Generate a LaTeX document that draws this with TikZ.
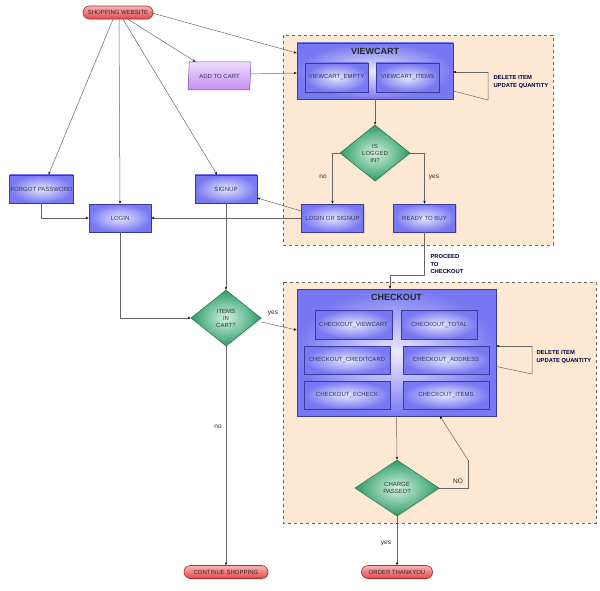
\documentclass[tikz,border=0pt]{standalone}
\usepackage{fontspec}
\setmainfont{Liberation Sans}
\usetikzlibrary{shapes.geometric,shadows,arrows.meta,positioning}
\definecolor{peach}{HTML}{FDE9D3}
\definecolor{boxblue}{HTML}{7878F2}
\definecolor{boxline}{HTML}{3A3A9A}
\definecolor{boxlight}{HTML}{E6E6FF}
\definecolor{pillred}{HTML}{E4484A}
\definecolor{pilllight}{HTML}{F8B4B4}
\definecolor{pillline}{HTML}{A83030}
\definecolor{dgreen}{HTML}{2E9C68}
\definecolor{lgreen}{HTML}{D2F2E2}
\definecolor{lilac}{HTML}{C48CF0}
\definecolor{lilaclight}{HTML}{EEDCFC}
\definecolor{connline}{HTML}{666666}
\definecolor{txt}{HTML}{333355}
\tikzset{
  small/.style={font=\fontsize{6}{7}\selectfont},
  box/.style={draw=boxline, line width=.6pt, inner color=boxlight, outer color=boxblue,
    minimum width=62pt, minimum height=28pt, inner sep=1pt, small, text=txt,
    drop shadow={opacity=.3,shadow xshift=1pt,shadow yshift=-1pt}},
  container/.style={box, inner color=white!85!boxblue, outer color=boxblue},
  decision/.style={diamond, draw=dgreen!70!black, line width=.5pt, inner color=lgreen,
    outer color=dgreen, minimum width=70pt, minimum height=56pt, inner sep=0pt,
    align=center, small, text=black!80,
    drop shadow={opacity=.25,shadow xshift=1pt,shadow yshift=-1pt}},
  terminal/.style={rounded corners=6.5pt, draw=pillline, line width=.6pt, top color=pilllight,
    bottom color=pillred, minimum height=13pt, inner sep=1pt, small, text=black!85,
    drop shadow={opacity=.3,shadow xshift=1pt,shadow yshift=-1pt}},
  datain/.style={trapezium, trapezium left angle=82, trapezium right angle=98,
    trapezium stretches=true, draw=lilac!60!black, line width=.5pt, top color=lilaclight,
    bottom color=lilac, minimum width=63pt, minimum height=28pt, inner sep=1pt, small, text=txt},
  group/.style={draw=black!60, dashed, line width=.5pt, fill=peach},
  conn/.style={draw=connline, line width=.5pt, -{Stealth[length=3pt,width=2.4pt,black]}},
  line/.style={draw=connline, line width=.5pt},
  title/.style={font=\fontsize{9}{10}\selectfont\bfseries, text=black!85},
  note/.style={font=\fontsize{5.8}{7.5}\selectfont\bfseries, text=black!75!blue, align=left},
  answer/.style={font=\fontsize{6.5}{7.5}\selectfont, text=black!85}
}
\begin{document}
\begin{tikzpicture}[x=1pt,y=-1pt]
  \useasboundingbox (0,0) rectangle (600,591);
  % groups
  \draw[group] (283,35) rectangle (553,245);
  \draw[group] (283,282) rectangle (596,523);

  % nodes
  \node[terminal, minimum width=70pt] (shop) at (118,12.5) {SHOPPING WEBSITE};
  \node[datain] (addcart) at (219.5,76) {ADD TO CART};
  \node[container, minimum width=156pt, minimum height=56pt] (viewcart) at (375,71) {};
  \node[title] (viewcarttitle) at (375,51) {VIEWCART};
  \node[box, minimum width=63pt, minimum height=29pt] (vcempty) at (336.5,77.5) {VIEWCART\_EMPTY};
  \node[box, minimum width=63pt, minimum height=29pt] (vcitems) at (407.5,77.5) {VIEWCART\_ITEMS};
  \node[decision] (logged) at (375,153) {IS\\LOGGED\\IN?};
  \node[box] (forgot) at (41.5,189) {FORGOT PASSWORD};
  \node[box] (login) at (120,218) {LOGIN};
  \node[box] (signup) at (226,189) {SIGNUP};
  \node[box] (loginsignup) at (332.5,218) {LOGIN OR SIGNUP};
  \node[box] (ready) at (424.5,218) {READY TO BUY};
  \node[decision] (itemscart) at (226,318) {ITEMS\\IN\\CART?};
  \node[container, minimum width=199pt, minimum height=127pt] (checkout) at (396.5,352.5) {};
  \node[title] (checkouttitle) at (396.5,297) {CHECKOUT};
  \node[box, minimum width=77pt, minimum height=29pt] (coviewcart) at (353.5,324.5) {CHECKOUT\_VIEWCART};
  \node[box, minimum width=76pt, minimum height=29pt] (cototal) at (439,324.5) {CHECKOUT\_TOTAL};
  \node[box, minimum width=86pt] (cocredit) at (347,360) {CHECKOUT\_CREDITCARD};
  \node[box, minimum width=86pt] (coaddress) at (446,360) {CHECKOUT\_ADDRESS};
  \node[box, minimum width=86pt] (coecheck) at (347,395) {CHECKOUT\_ECHECK};
  \node[box, minimum width=86pt] (coitems) at (446,395) {CHECKOUT\_ITEMS};
  \node[decision, minimum width=84pt] (charge) at (397,488) {CHARGE\\PASSED?};
  \node[terminal, minimum width=84pt] (continue) at (226,572) {CONTINUE SHOPPING};
  \node[terminal, minimum width=71pt] (thanks) at (397,572) {ORDER THANKYOU};

  % loop corners
  \coordinate (vloopa) at (488,100);
  \coordinate (vloopb) at (488,72);
  \coordinate (cloopa) at (532,374);
  \coordinate (cloopb) at (532,346);
  \coordinate (proceeda) at (424.5,275);
  \coordinate (proceedb) at (390,275);
  \coordinate (nocorner) at (468,460);

  % connectors
  \draw[conn] ([xshift=-5pt]shop.south) -- ([xshift=7pt]forgot.north);
  \draw[conn] ([xshift=1pt]shop.south) -- (login.north);
  \draw[conn] ([xshift=5pt]shop.south) -- ([xshift=-9pt]signup.north);
  \draw[conn] ([xshift=10pt]shop.south) -- ([xshift=-24pt]addcart.north);
  \draw[conn] ([xshift=-3pt]shop.east) -- ([yshift=18pt]viewcart.west);
  \draw[conn] ([yshift=2pt]addcart.east) -- ([yshift=-2pt]viewcart.west);
  \draw[line] ([yshift=-20pt]viewcart.east) -- (vloopa) -- (vloopb);
  \draw[conn] (vloopb) -- ([yshift=-1pt]viewcart.east);
  \draw[conn] (viewcart.south) -- (logged.north);
  \draw[conn] (logged.west) -| (loginsignup.north);
  \draw[conn] (logged.east) -| (ready.north);
  \draw[conn] ([yshift=7pt]loginsignup.west) -- ([yshift=-9pt]signup.east);
  \draw[conn] (loginsignup.west) -- (login.east);
  \draw[conn] (forgot.south) |- (login.west);
  \draw[conn] (login.south) |- (itemscart.west);
  \draw[conn] (signup.south) -- (itemscart.north);
  \draw[line] (ready.south) -- (proceeda) -- (proceedb);
  \draw[conn] (proceedb) -- (proceedb |- checkout.north);
  \draw[conn] ([yshift=-4pt]itemscart.east) -- ([yshift=22.5pt]checkout.west);
  \draw[conn] (itemscart.south) -- (continue.north);
  \draw[line] ([yshift=-14pt]checkout.east) -- (cloopa) -- (cloopb);
  \draw[conn] (cloopb) -- ([yshift=6.5pt]checkout.east);
  \draw[conn] (checkout.south) -- (charge.north);
  \draw[line] (charge.east) -| (nocorner);
  \draw[conn] (nocorner) -- ([xshift=43.5pt]checkout.south);
  \draw[conn] (charge.south) -- (thanks.north);

  % labels
  \node[note, anchor=west] (vnote) at (490,82) {DELETE ITEM\\UPDATE QUANTITY};
  \node[note, anchor=west] (cnote) at (533,357) {DELETE ITEM\\UPDATE QUANTITY};
  \node[note, anchor=north west] (proceed) at (427,251) {PROCEED\\TO\\CHECKOUT};
  \node[answer] (lno) at (323,177) {no};
  \node[answer] (lyes) at (434,177) {yes};
  \node[answer] (iyes) at (273,313) {yes};
  \node[answer] (ino) at (218,427) {no};
  \node[answer] (cno) at (458,481) {NO};
  \node[answer] (cyes) at (386,543) {yes};
\end{tikzpicture}
\end{document}
